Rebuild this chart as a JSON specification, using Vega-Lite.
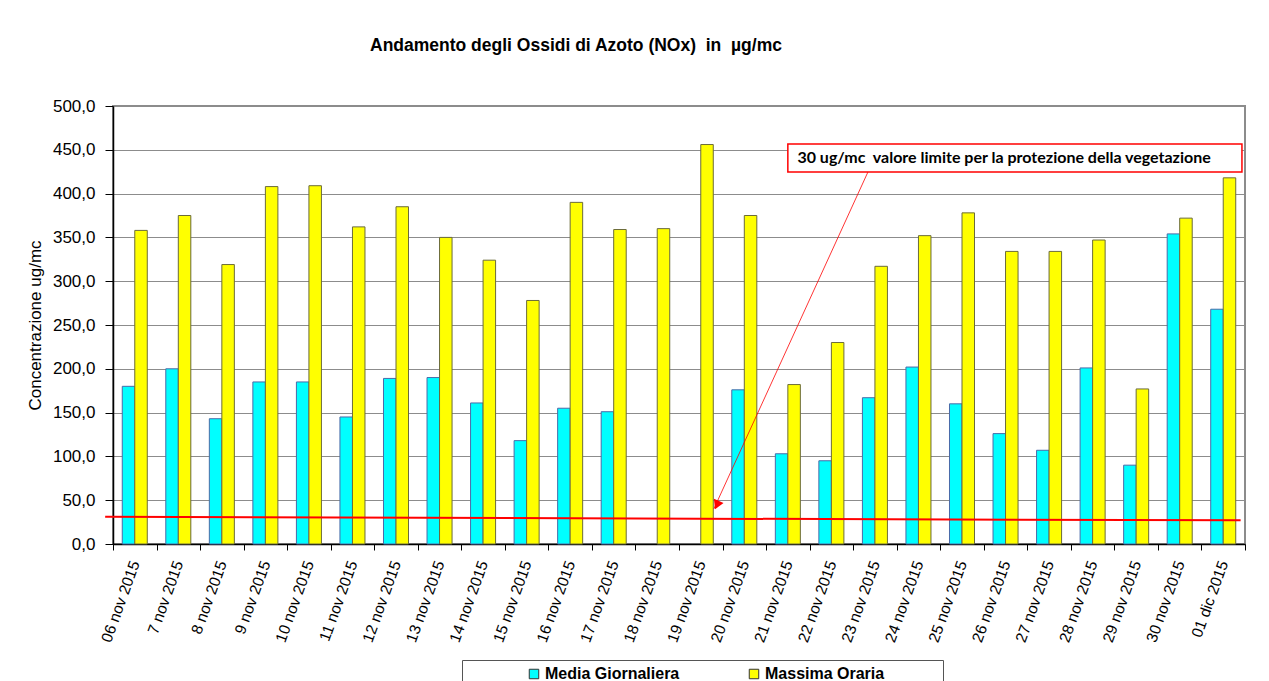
{
  "$schema": "https://vega.github.io/schema/vega-lite/v6.json",
  "width": 1132,
  "height": 438,
  "autosize": {"type": "none"},
  "padding": {"left": 113, "top": 106, "right": 24, "bottom": 137},
  "background": "white",
  "config": {
    "view": {"stroke": "#8c8c8c", "strokeWidth": 2},
    "font": "Liberation Sans"
  },
  "title": {
    "text": "Andamento degli Ossidi di Azoto (NOx)\u00a0 in\u00a0 µg/mc",
    "anchor": "start",
    "frame": "group",
    "dx": 257,
    "offset": 29,
    "baseline": "alphabetic",
    "fontSize": 17.5,
    "fontWeight": "bold",
    "font": "Liberation Sans",
    "color": "black"
  },
  "datasets": {
    "main": [
      {"date": "06 nov 2015", "serie": "Media Giornaliera", "value": 180},
      {"date": "06 nov 2015", "serie": "Massima Oraria", "value": 358},
      {"date": "7 nov 2015", "serie": "Media Giornaliera", "value": 200},
      {"date": "7 nov 2015", "serie": "Massima Oraria", "value": 375},
      {"date": "8 nov 2015", "serie": "Media Giornaliera", "value": 143},
      {"date": "8 nov 2015", "serie": "Massima Oraria", "value": 319},
      {"date": "9 nov 2015", "serie": "Media Giornaliera", "value": 185},
      {"date": "9 nov 2015", "serie": "Massima Oraria", "value": 408},
      {"date": "10 nov 2015", "serie": "Media Giornaliera", "value": 185},
      {"date": "10 nov 2015", "serie": "Massima Oraria", "value": 409},
      {"date": "11 nov 2015", "serie": "Media Giornaliera", "value": 145},
      {"date": "11 nov 2015", "serie": "Massima Oraria", "value": 362},
      {"date": "12 nov 2015", "serie": "Media Giornaliera", "value": 189},
      {"date": "12 nov 2015", "serie": "Massima Oraria", "value": 385},
      {"date": "13 nov 2015", "serie": "Media Giornaliera", "value": 190},
      {"date": "13 nov 2015", "serie": "Massima Oraria", "value": 350},
      {"date": "14 nov 2015", "serie": "Media Giornaliera", "value": 161},
      {"date": "14 nov 2015", "serie": "Massima Oraria", "value": 324},
      {"date": "15 nov 2015", "serie": "Media Giornaliera", "value": 118},
      {"date": "15 nov 2015", "serie": "Massima Oraria", "value": 278},
      {"date": "16 nov 2015", "serie": "Media Giornaliera", "value": 155},
      {"date": "16 nov 2015", "serie": "Massima Oraria", "value": 390},
      {"date": "17 nov 2015", "serie": "Media Giornaliera", "value": 151},
      {"date": "17 nov 2015", "serie": "Massima Oraria", "value": 359},
      {"date": "18 nov 2015", "serie": "Massima Oraria", "value": 360},
      {"date": "19 nov 2015", "serie": "Massima Oraria", "value": 456},
      {"date": "20 nov 2015", "serie": "Media Giornaliera", "value": 176},
      {"date": "20 nov 2015", "serie": "Massima Oraria", "value": 375},
      {"date": "21 nov 2015", "serie": "Media Giornaliera", "value": 103},
      {"date": "21 nov 2015", "serie": "Massima Oraria", "value": 182},
      {"date": "22 nov 2015", "serie": "Media Giornaliera", "value": 95},
      {"date": "22 nov 2015", "serie": "Massima Oraria", "value": 230},
      {"date": "23 nov 2015", "serie": "Media Giornaliera", "value": 167},
      {"date": "23 nov 2015", "serie": "Massima Oraria", "value": 317},
      {"date": "24 nov 2015", "serie": "Media Giornaliera", "value": 202},
      {"date": "24 nov 2015", "serie": "Massima Oraria", "value": 352},
      {"date": "25 nov 2015", "serie": "Media Giornaliera", "value": 160},
      {"date": "25 nov 2015", "serie": "Massima Oraria", "value": 378},
      {"date": "26 nov 2015", "serie": "Media Giornaliera", "value": 126},
      {"date": "26 nov 2015", "serie": "Massima Oraria", "value": 334},
      {"date": "27 nov 2015", "serie": "Media Giornaliera", "value": 107},
      {"date": "27 nov 2015", "serie": "Massima Oraria", "value": 334},
      {"date": "28 nov 2015", "serie": "Media Giornaliera", "value": 201},
      {"date": "28 nov 2015", "serie": "Massima Oraria", "value": 347},
      {"date": "29 nov 2015", "serie": "Media Giornaliera", "value": 90},
      {"date": "29 nov 2015", "serie": "Massima Oraria", "value": 177},
      {"date": "30 nov 2015", "serie": "Media Giornaliera", "value": 354},
      {"date": "30 nov 2015", "serie": "Massima Oraria", "value": 372},
      {"date": "01 dic 2015", "serie": "Media Giornaliera", "value": 268},
      {"date": "01 dic 2015", "serie": "Massima Oraria", "value": 418}
    ],
    "limitLine": [{"x": -0.18, "x2": 25.9, "y": 31, "y2": 27}],
    "box": [{"x": 15.5, "x2": 25.93, "y": 456.6, "y2": 424.7}],
    "boxText": [{"x": 15.72, "y": 440.6, "label": "30 ug/mc\u00a0 valore limite per la protezione della vegetazione"}],
    "arrowLine": [{"x": 17.34, "y": 424.7, "x2": 13.8, "y2": 40}],
    "arrowHead": [{"x": 13.87, "y": 44.5}]
  },
  "layer": [
    {
      "data": {"name": "main"},
      "mark": {"type": "bar", "strokeWidth": 1},
      "encoding": {
        "x": {
          "field": "date",
          "type": "nominal",
          "sort": null,
          "scale": {"paddingInner": 0, "paddingOuter": 0},
          "axis": {
            "orient": "bottom",
            "title": null,
            "labelAngle": -70,
            "labelAlign": "right",
            "labelBaseline": "middle",
            "labelFontSize": 15.5,
            "labelColor": "black",
            "labelPadding": 11,
            "ticks": true,
            "tickBand": "extent",
            "tickSize": 6,
            "tickColor": "black",
            "domainColor": "black",
            "domainWidth": 1.5,
            "grid": false,
            "labelOverlap": false
          }
        },
        "xOffset": {
          "field": "serie",
          "type": "nominal",
          "scale": {"domain": ["Media Giornaliera", "Massima Oraria"], "paddingInner": 0, "paddingOuter": 0.74}
        },
        "y": {
          "field": "value",
          "type": "quantitative",
          "scale": {"domain": [0, 500], "nice": false},
          "axis": {
            "title": "Concentrazione ug/mc",
            "values": [0, 50, 100, 150, 200, 250, 300, 350, 400, 450, 500],
            "labelExpr": "replace(format(datum.value, '.1f'), '.', ',')",
            "labelFontSize": 17,
            "labelColor": "black",
            "titleFontSize": 17,
            "titleFontWeight": "normal",
            "titleColor": "black",
            "titlePadding": 8,
            "gridColor": "#8c8c8c",
            "gridWidth": 1,
            "domainColor": "black",
            "domainWidth": 1.5,
            "tickColor": "black",
            "tickSize": 8,
            "labelPadding": 10
          }
        },
        "color": {
          "field": "serie",
          "type": "nominal",
          "scale": {"domain": ["Media Giornaliera", "Massima Oraria"], "range": ["#00FFFF", "#FFFF00"]},
          "legend": {
            "title": "\u00a0",
            "titleOrient": "left",
            "titlePadding": 58,
            "titleFontSize": 11,
            "orient": "none",
            "legendX": 349,
            "legendY": 554,
            "direction": "horizontal",
            "strokeColor": "#555",
            "fillColor": "white",
            "padding": 6,
            "columnPadding": 66,
            "labelFontSize": 16,
            "labelFontWeight": "bold",
            "labelColor": "black",
            "labelFont": "Liberation Sans",
            "labelLimit": 500,
            "labelExpr": "datum.label === 'Massima Oraria' ? datum.label + '\u00a0\u00a0\u00a0\u00a0\u00a0\u00a0\u00a0\u00a0\u00a0\u2800' : datum.label",
            "symbolType": "square",
            "symbolSize": 90,
            "symbolStrokeColor": "#333",
            "symbolStrokeWidth": 1,
            "labelOffset": 3
          }
        },
        "stroke": {
          "condition": {"test": "datum.serie === 'Media Giornaliera'", "value": "#4a6aa8"},
          "value": "#6b6b3a"
        }
      }
    },
    {
      "layer": [
        {
          "data": {"name": "limitLine"},
          "mark": {"type": "rule", "color": "#ff0000", "strokeWidth": 2},
          "encoding": {
            "x": {"field": "x", "type": "quantitative", "scale": {"domain": [0, 26], "nice": false, "zero": false}, "axis": null},
            "x2": {"field": "x2"},
            "y": {"field": "y", "type": "quantitative", "scale": {"domain": [0, 500], "nice": false}, "title": "Concentrazione ug/mc"},
            "y2": {"field": "y2"}
          }
        },
        {
          "data": {"name": "arrowLine"},
          "mark": {"type": "rule", "color": "#ff0000", "strokeWidth": 0.8},
          "encoding": {
            "x": {"field": "x", "type": "quantitative", "axis": null},
            "x2": {"field": "x2"},
            "y": {"field": "y", "type": "quantitative", "title": "Concentrazione ug/mc"},
            "y2": {"field": "y2"}
          }
        },
        {
          "data": {"name": "arrowHead"},
          "mark": {"type": "point", "shape": "triangle-up", "filled": true, "color": "#ff0000", "size": 110, "angle": 204, "opacity": 1},
          "encoding": {
            "x": {"field": "x", "type": "quantitative", "axis": null},
            "y": {"field": "y", "type": "quantitative", "title": "Concentrazione ug/mc"}
          }
        },
        {
          "data": {"name": "box"},
          "mark": {"type": "rect", "fill": "white", "stroke": "#ff0000", "strokeWidth": 1.5},
          "encoding": {
            "x": {"field": "x", "type": "quantitative", "axis": null},
            "x2": {"field": "x2"},
            "y": {"field": "y", "type": "quantitative", "title": "Concentrazione ug/mc"},
            "y2": {"field": "y2"}
          }
        },
        {
          "data": {"name": "boxText"},
          "mark": {"type": "text", "align": "left", "baseline": "middle", "font": "Lato", "fontWeight": "bold", "fontSize": 16, "color": "black"},
          "encoding": {
            "x": {"field": "x", "type": "quantitative", "axis": null},
            "y": {"field": "y", "type": "quantitative", "title": "Concentrazione ug/mc"},
            "text": {"field": "label"}
          }
        }
      ]
    }
  ],
  "resolve": {"scale": {"x": "independent"}, "axis": {"x": "independent"}}
}
